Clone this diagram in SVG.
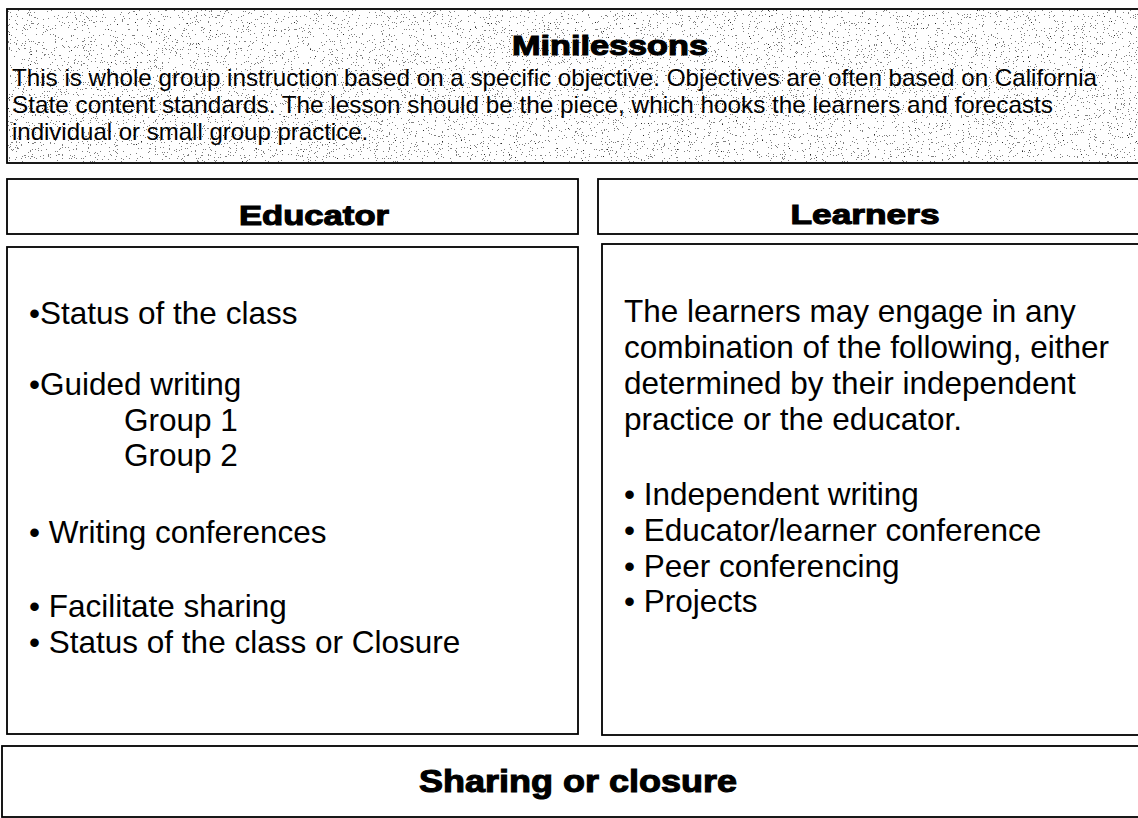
<svg xmlns="http://www.w3.org/2000/svg" width="1138" height="818" viewBox="0 0 1138 818">
<style>
.box{fill:#ffffff;stroke:#000000;stroke-width:1.8}
.hd{font-family:"Liberation Sans",Arial,sans-serif;font-weight:bold;fill:#000;stroke:#000;stroke-width:1.1;text-anchor:middle}
.tx{font-family:"Liberation Sans",Arial,sans-serif;font-size:31.5px;fill:#000}
.sm{font-family:"Liberation Sans",Arial,sans-serif;font-size:24px;fill:#000}
</style>
<defs>
<filter id="speckle" x="0" y="0" width="100%" height="100%" color-interpolation-filters="sRGB">
<feTurbulence type="fractalNoise" baseFrequency="0.85" numOctaves="2" seed="7" result="noise"/>
<feColorMatrix in="noise" type="matrix" values="0 0 0 0 0  0 0 0 0 0  0 0 0 0 0  1.6 0 0 0 -0.5"/>
<feComponentTransfer><feFuncA type="discrete" tableValues="0 0 0 0.5 0.85"/></feComponentTransfer>
</filter>
</defs>
<rect width="1138" height="818" fill="#ffffff"/>
<g id="minilessons">
<rect class="box" x="7" y="9" width="1140" height="154"/>
<rect x="8" y="10" width="1130" height="152" fill="#000" filter="url(#speckle)"/>
<text class="hd" x="610" y="55" font-size="28" textLength="196" lengthAdjust="spacingAndGlyphs">Minilessons</text>
<text class="sm" x="12" y="86" textLength="1085" lengthAdjust="spacingAndGlyphs">This is whole group instruction based on a specific objective. Objectives are often based on California</text>
<text class="sm" x="12" y="113" textLength="1041" lengthAdjust="spacingAndGlyphs">State content standards. The lesson should be the piece, which hooks the learners and forecasts</text>
<text class="sm" x="12" y="140">individual or small group practice.</text>
</g>
<g id="educator-header">
<rect class="box" x="7" y="179" width="571" height="55"/>
<text class="hd" x="314" y="225" font-size="28" textLength="150" lengthAdjust="spacingAndGlyphs">Educator</text>
</g>
<g id="learners-header">
<rect class="box" x="598" y="179" width="545" height="55"/>
<text class="hd" x="865" y="224" font-size="28" textLength="149" lengthAdjust="spacingAndGlyphs">Learners</text>
</g>
<g id="educator-content">
<rect class="box" x="7" y="247" width="571" height="487"/>
<text class="tx" x="29" y="324">•Status of the class</text>
<text class="tx" x="29" y="395">•Guided writing</text>
<text class="tx" x="124" y="431">Group 1</text>
<text class="tx" x="124" y="466">Group 2</text>
<text class="tx" x="29" y="543">• Writing conferences</text>
<text class="tx" x="29" y="617">• Facilitate sharing</text>
<text class="tx" x="29" y="653">• Status of the class or Closure</text>
</g>
<g id="learners-content">
<rect class="box" x="602" y="244" width="541" height="491"/>
<text class="tx" x="624" y="322">The learners may engage in any</text>
<text class="tx" x="624" y="358">combination of the following, either</text>
<text class="tx" x="624" y="394">determined by their independent</text>
<text class="tx" x="624" y="430">practice or the educator.</text>
<text class="tx" x="624" y="505">• Independent writing</text>
<text class="tx" x="624" y="541">• Educator/learner conference</text>
<text class="tx" x="624" y="577">• Peer conferencing</text>
<text class="tx" x="624" y="612">• Projects</text>
</g>
<g id="sharing">
<rect class="box" x="2" y="746" width="1141" height="71"/>
<text class="hd" x="578" y="792" font-size="32" textLength="318" lengthAdjust="spacingAndGlyphs">Sharing or closure</text>
</g>
<g id="connectors"></g>
</svg>
